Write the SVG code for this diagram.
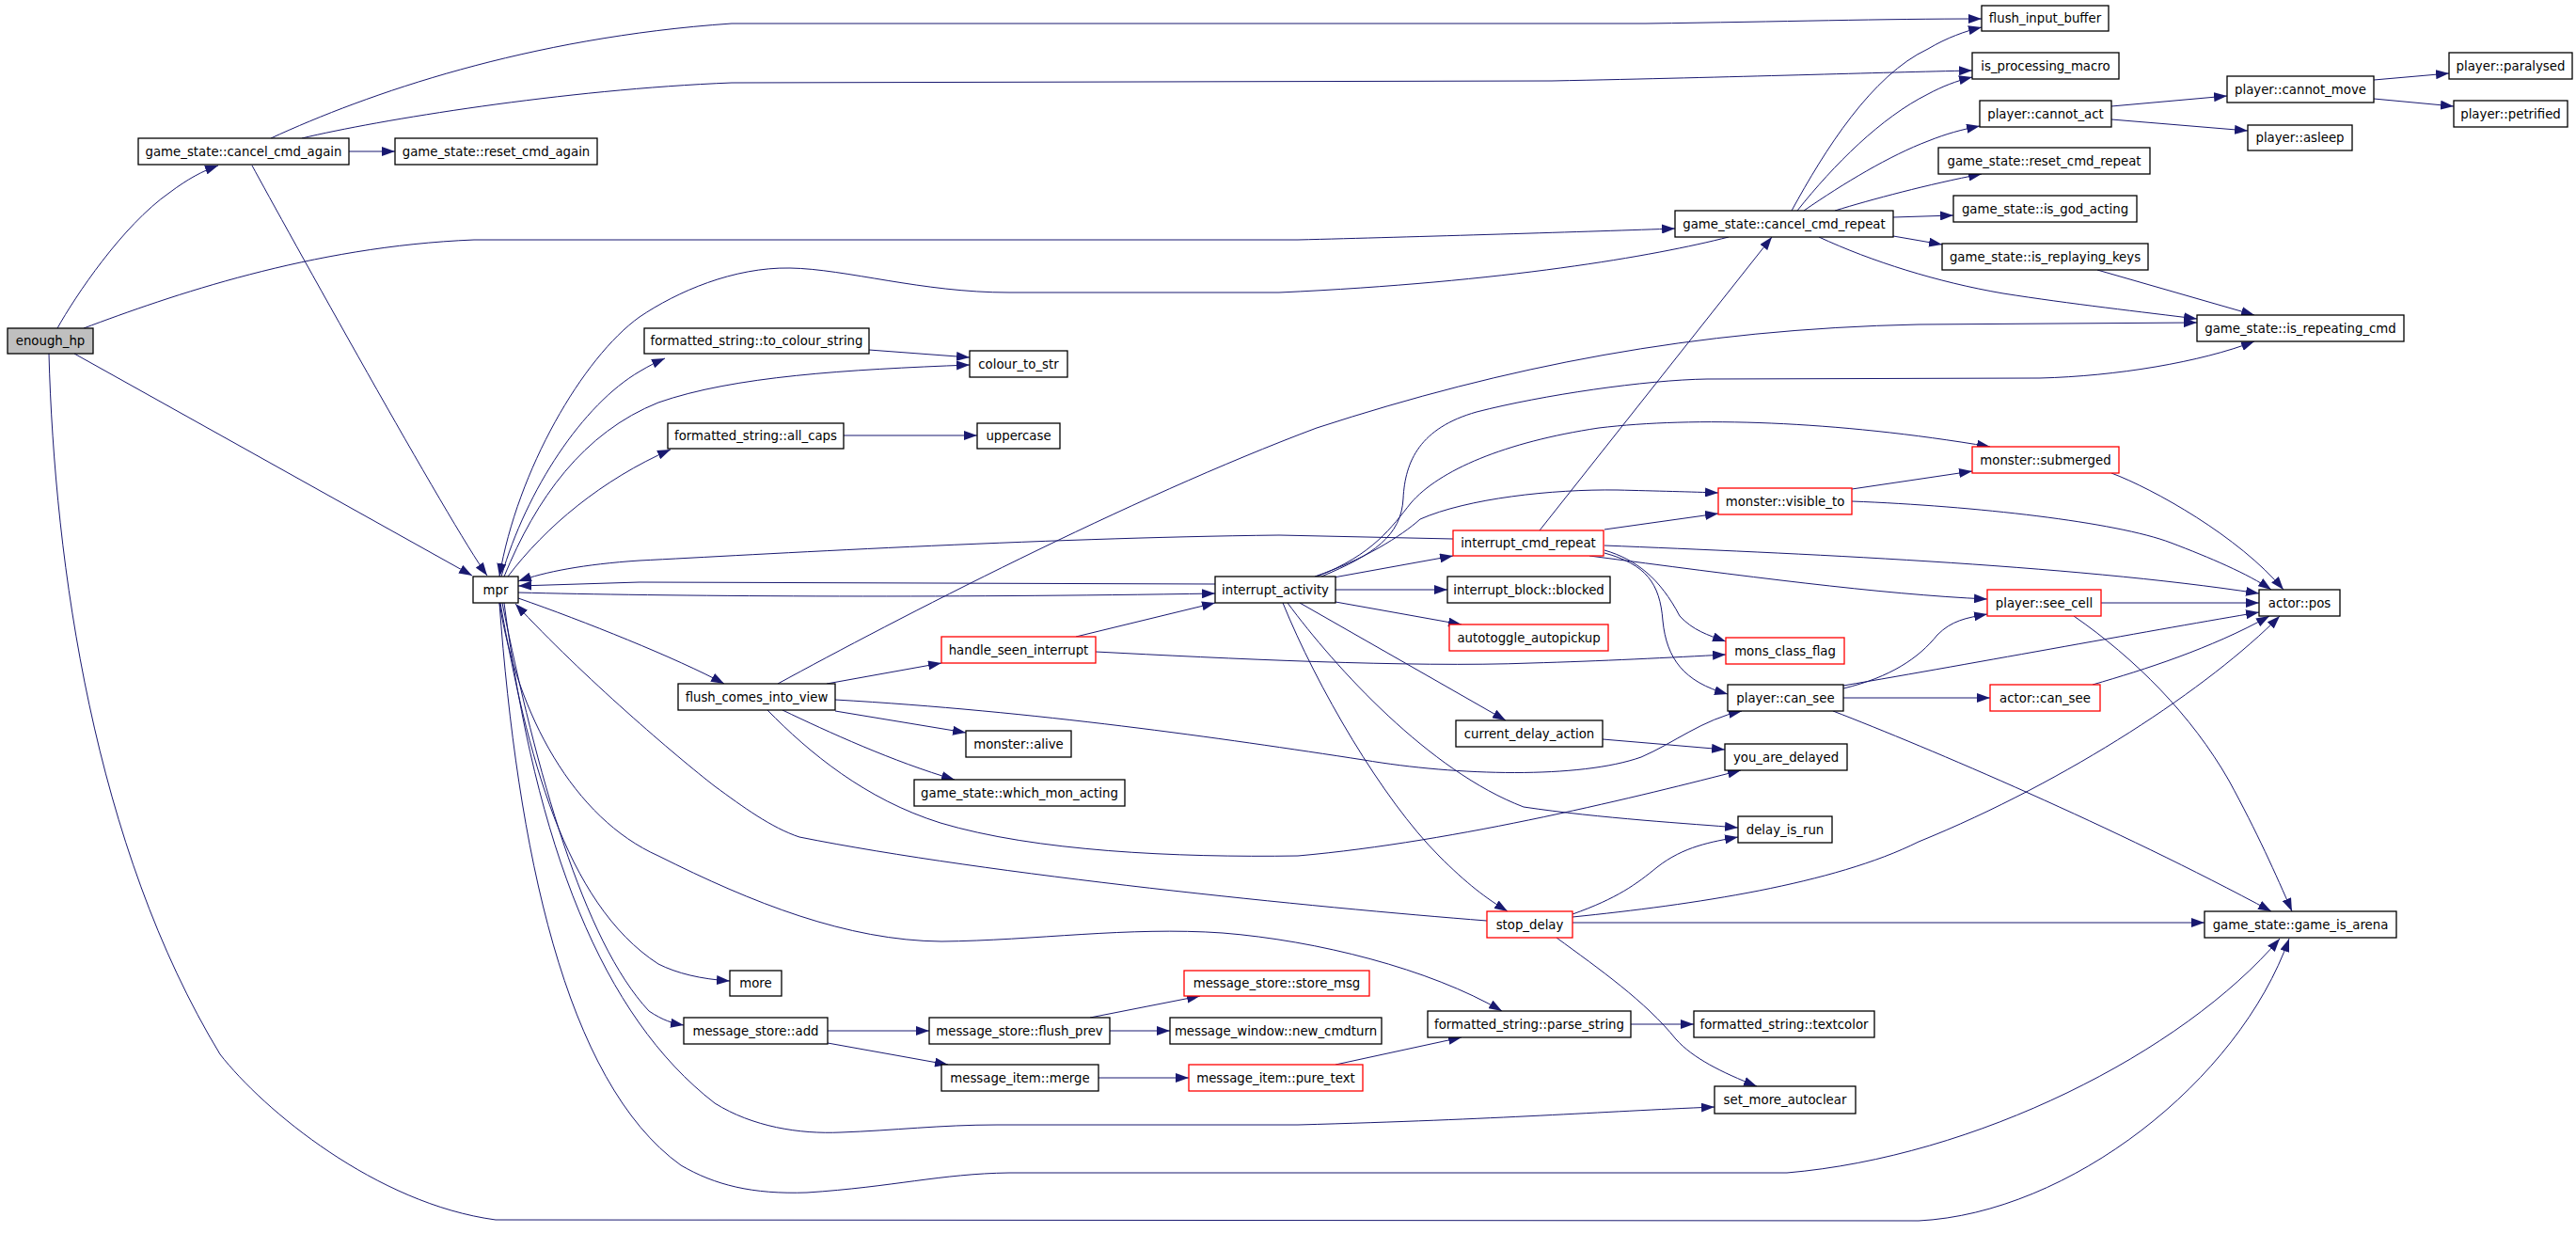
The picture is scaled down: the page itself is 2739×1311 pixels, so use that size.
<svg xmlns="http://www.w3.org/2000/svg" width="2739" height="1311" viewBox="0 0 2739 1311">
<defs>
<marker id="a" markerUnits="userSpaceOnUse" markerWidth="14" markerHeight="10" refX="14" refY="5" orient="auto"><path d="M0,0L14,5L0,10z" fill="#191970"/></marker>
<style>
.n rect{fill:#fff;stroke:#000;stroke-width:1.3}
.r rect{stroke:#f00}
.g rect{fill:#bfbfbf}
text{font-family:"DejaVu Sans","Liberation Sans",sans-serif;font-size:13.3px;text-anchor:middle;fill:#000}
#edges path{fill:none;stroke:#191970;stroke-width:1;marker-end:url(#a)}
</style>
</defs>
<rect width="2739" height="1311" fill="#fff"/>
<g id="edges">
<path d="M61,349 C80,315 130,240 180,205 C200,190 215,182 232,176"/>
<path d="M89,349 C180,315 330,262 504,255 L1380,255 C1500,252 1700,246 1781,243"/>
<path d="M79,376 L502,612"/>
<path d="M52,376 C58,600 100,900 234,1121 C280,1180 400,1280 527,1297 L2040,1298 C2200,1290 2380,1150 2434,998"/>
<path d="M371,161 L420,161"/>
<path d="M288,147 C390,100 560,40 778,25 L1750,25 C1900,23 2000,20 2107,20"/>
<path d="M321,147 C400,128 600,95 778,88 L1650,86 C1850,82 2000,77 2097,75"/>
<path d="M268,176 C300,235 480,560 518,612"/>
<path d="M1905,224 C1940,160 1990,80 2050,52 C2070,40 2090,33 2107,29"/>
<path d="M1911,224 C1950,175 2000,125 2050,100 C2065,92 2080,86 2097,82"/>
<path d="M1918,224 C1960,195 2010,165 2050,150 C2070,142 2085,138 2105,134"/>
<path d="M1951,224 C1990,212 2050,196 2107,185"/>
<path d="M2013,231 L2077,229"/>
<path d="M2013,251 L2065,260"/>
<path d="M1934,252 C1990,278 2060,300 2130,312 C2200,323 2280,332 2336,339"/>
<path d="M2230,287 L2397,335"/>
<path d="M2245,113 L2368,102"/>
<path d="M2245,127 L2390,139"/>
<path d="M2524,85 L2604,78"/>
<path d="M2524,105 L2609,113"/>
<path d="M1838,252 C1760,272 1600,300 1360,311 L1073,311 C980,311 900,286 840,285 C780,284 720,310 680,337 C620,380 550,500 531,613"/>
<path d="M533,613 C560,520 620,430 680,395 C690,389 698,385 707,381"/>
<path d="M536,613 C570,530 620,460 700,428 C780,400 900,393 1031,388"/>
<path d="M540,613 C580,560 640,510 713,478"/>
<path d="M924,372 L1031,380"/>
<path d="M897,463 L1039,463"/>
<path d="M1545,573 L1360,569 C1100,572 800,590 680,596 C620,600 580,608 551,618"/>
<path d="M1292,621 L680,619 L551,623"/>
<path d="M551,630 C700,634 1000,636 1292,631"/>
<path d="M551,636 C620,660 720,700 770,727"/>
<path d="M1581,979 C1400,965 1050,930 850,890 C820,880 790,858 760,836 C720,805 620,720 548,642"/>
<path d="M531,641 C550,760 610,870 700,910 C800,960 900,1000 1001,1001 C1100,1000 1200,985 1300,992 C1400,1000 1520,1030 1597,1075"/>
<path d="M532,641 C560,800 600,960 700,1025 C720,1035 745,1041 776,1043"/>
<path d="M534,641 C570,820 620,1000 690,1075 C705,1085 715,1088 727,1090"/>
<path d="M536,641 C570,900 640,1080 760,1173 C800,1198 850,1206 894,1204 C950,1202 1000,1196 1060,1196 L1380,1196 C1600,1190 1700,1182 1823,1177"/>
<path d="M531,641 C550,900 600,1150 724,1239 C760,1260 800,1270 858,1268 C950,1262 1000,1248 1073,1247 L1900,1247 C2100,1230 2320,1120 2424,998"/>
<path d="M827,727 C950,660 1200,530 1400,455 C1600,390 1800,350 2040,345 L2336,343"/>
<path d="M1405,613 C1460,590 1490,570 1492,530 C1494,490 1510,455 1570,438 C1640,420 1750,404 1815,403 L2169,402 C2250,400 2340,385 2397,363"/>
<path d="M1400,613 C1460,590 1480,560 1500,535 C1530,500 1600,470 1700,455 C1800,443 1950,447 2116,475"/>
<path d="M1398,613 C1450,595 1490,570 1510,552 C1560,530 1650,520 1720,521 C1760,522 1800,523 1827,524"/>
<path d="M1418,614 L1545,591"/>
<path d="M1706,563 L1827,546"/>
<path d="M1637,564 L1884,252"/>
<path d="M1706,580 C1900,588 2200,600 2402,631"/>
<path d="M1690,591 C1850,612 2000,632 2113,637"/>
<path d="M1706,585 C1740,595 1765,615 1786,655 C1800,670 1815,675 1835,682"/>
<path d="M1706,588 C1750,600 1765,620 1768,660 C1772,700 1790,725 1837,738"/>
<path d="M1144,677 L1292,641"/>
<path d="M1165,693 C1300,700 1500,710 1628,705 C1700,703 1780,699 1835,696"/>
<path d="M879,727 L1001,705"/>
<path d="M888,756 L1027,779"/>
<path d="M832,755 C880,778 950,810 1015,829"/>
<path d="M888,744 C1100,756 1300,785 1450,808 C1550,825 1680,828 1745,805 C1780,790 1810,765 1852,756"/>
<path d="M816,755 C860,800 920,850 1000,875 C1100,905 1250,912 1380,910 C1550,895 1750,845 1851,819"/>
<path d="M1420,627 L1539,627"/>
<path d="M1420,640 L1554,664"/>
<path d="M1382,641 L1601,766"/>
<path d="M1369,641 C1420,710 1520,820 1620,858 C1700,870 1800,876 1848,880"/>
<path d="M1364,641 C1400,730 1470,850 1530,910 C1560,940 1580,955 1603,969"/>
<path d="M1704,786 L1834,797"/>
<path d="M1672,972 C1720,955 1740,940 1762,922 C1790,900 1820,895 1848,890"/>
<path d="M1672,975 C1800,962 1950,940 2040,895 C2200,830 2350,730 2424,655"/>
<path d="M1672,981 L2344,981"/>
<path d="M1655,997 C1700,1030 1750,1065 1782,1105 C1800,1125 1830,1140 1868,1155"/>
<path d="M1420,1132 L1554,1103"/>
<path d="M1734,1089 L1801,1089"/>
<path d="M880,1096 L988,1096"/>
<path d="M880,1109 L1008,1132"/>
<path d="M1159,1082 L1276,1059"/>
<path d="M1180,1096 L1244,1096"/>
<path d="M1168,1146 L1264,1146"/>
<path d="M2234,641 L2402,641"/>
<path d="M2205,655 C2270,700 2330,760 2370,830 C2400,885 2420,930 2437,969"/>
<path d="M1960,732 C2010,720 2040,700 2060,675 C2075,660 2090,657 2113,653"/>
<path d="M1960,729 C2100,705 2300,668 2402,651"/>
<path d="M1960,742 L2116,742"/>
<path d="M1949,756 C2050,795 2250,880 2415,969"/>
<path d="M2225,728 C2280,712 2350,690 2413,655"/>
<path d="M1969,520 L2097,501"/>
<path d="M1969,533 C2100,538 2250,555 2308,577 C2350,593 2390,610 2415,627"/>
<path d="M2245,503 C2290,520 2380,570 2428,627"/>
</g>
<g id="enough_hp" class="n g"><rect x="8" y="349" width="91" height="27"/><text x="53.5" y="367">enough_hp</text></g>
<g id="cancel_cmd_again" class="n"><rect x="147" y="147" width="224" height="28"/><text x="259" y="165.5">game_state::cancel_cmd_again</text></g>
<g id="reset_cmd_again" class="n"><rect x="420" y="147" width="215" height="28"/><text x="527.5" y="165.5">game_state::reset_cmd_again</text></g>
<g id="mpr" class="n"><rect x="503" y="613" width="48" height="28"/><text x="527" y="631.5">mpr</text></g>
<g id="to_colour_string" class="n"><rect x="685" y="349" width="239" height="27"/><text x="804.5" y="367">formatted_string::to_colour_string</text></g>
<g id="colour_to_str" class="n"><rect x="1031" y="373" width="104" height="28"/><text x="1083" y="391.5">colour_to_str</text></g>
<g id="all_caps" class="n"><rect x="710" y="450" width="187" height="27"/><text x="803.5" y="468">formatted_string::all_caps</text></g>
<g id="uppercase" class="n"><rect x="1039" y="450" width="88" height="27"/><text x="1083" y="468">uppercase</text></g>
<g id="interrupt_activity" class="n"><rect x="1292" y="613" width="128" height="28"/><text x="1356" y="631.5">interrupt_activity</text></g>
<g id="cancel_cmd_repeat" class="n"><rect x="1781" y="224" width="232" height="28"/><text x="1897" y="242.5">game_state::cancel_cmd_repeat</text></g>
<g id="visible_to" class="n r"><rect x="1827" y="519" width="142" height="28"/><text x="1898" y="537.5">monster::visible_to</text></g>
<g id="interrupt_cmd_repeat" class="n r"><rect x="1545" y="564" width="160" height="27"/><text x="1625" y="582">interrupt_cmd_repeat</text></g>
<g id="blocked" class="n"><rect x="1539" y="613" width="173" height="28"/><text x="1625.5" y="631.5">interrupt_block::blocked</text></g>
<g id="flush_input_buffer" class="n"><rect x="2107" y="6" width="135" height="27"/><text x="2174.5" y="24">flush_input_buffer</text></g>
<g id="is_processing_macro" class="n"><rect x="2097" y="56" width="156" height="28"/><text x="2175" y="74.5">is_processing_macro</text></g>
<g id="cannot_act" class="n"><rect x="2105" y="107" width="140" height="28"/><text x="2175" y="125.5">player::cannot_act</text></g>
<g id="reset_cmd_repeat" class="n"><rect x="2061" y="157" width="225" height="28"/><text x="2173.5" y="175.5">game_state::reset_cmd_repeat</text></g>
<g id="is_god_acting" class="n"><rect x="2077" y="208" width="195" height="28"/><text x="2174.5" y="226.5">game_state::is_god_acting</text></g>
<g id="is_replaying_keys" class="n"><rect x="2065" y="259" width="219" height="28"/><text x="2174.5" y="277.5">game_state::is_replaying_keys</text></g>
<g id="is_repeating_cmd" class="n"><rect x="2336" y="335" width="220" height="28"/><text x="2446" y="353.5">game_state::is_repeating_cmd</text></g>
<g id="cannot_move" class="n"><rect x="2368" y="81" width="156" height="28"/><text x="2446" y="99.5">player::cannot_move</text></g>
<g id="asleep" class="n"><rect x="2390" y="133" width="111" height="27"/><text x="2445.5" y="151">player::asleep</text></g>
<g id="paralysed" class="n"><rect x="2604" y="56" width="131" height="28"/><text x="2669.5" y="74.5">player::paralysed</text></g>
<g id="petrified" class="n"><rect x="2609" y="107" width="121" height="28"/><text x="2669.5" y="125.5">player::petrified</text></g>
<g id="submerged" class="n r"><rect x="2097" y="475" width="156" height="28"/><text x="2175" y="493.5">monster::submerged</text></g>
<g id="see_cell" class="n r"><rect x="2113" y="627" width="121" height="28"/><text x="2173.5" y="645.5">player::see_cell</text></g>
<g id="actor_pos" class="n"><rect x="2402" y="627" width="86" height="28"/><text x="2445" y="645.5">actor::pos</text></g>
<g id="actor_can_see" class="n r"><rect x="2116" y="728" width="117" height="28"/><text x="2174.5" y="746.5">actor::can_see</text></g>
<g id="game_is_arena" class="n"><rect x="2344" y="969" width="204" height="28"/><text x="2446" y="987.5">game_state::game_is_arena</text></g>
<g id="handle_seen_interrupt" class="n r"><rect x="1001" y="677" width="164" height="28"/><text x="1083" y="695.5">handle_seen_interrupt</text></g>
<g id="flush_comes_into_view" class="n"><rect x="721" y="727" width="167" height="28"/><text x="804.5" y="745.5">flush_comes_into_view</text></g>
<g id="monster_alive" class="n"><rect x="1027" y="777" width="112" height="28"/><text x="1083" y="795.5">monster::alive</text></g>
<g id="which_mon_acting" class="n"><rect x="972" y="829" width="224" height="28"/><text x="1084" y="847.5">game_state::which_mon_acting</text></g>
<g id="more" class="n"><rect x="776" y="1032" width="55" height="27"/><text x="803.5" y="1050">more</text></g>
<g id="message_store_add" class="n"><rect x="727" y="1082" width="153" height="28"/><text x="803.5" y="1100.5">message_store::add</text></g>
<g id="flush_prev" class="n"><rect x="988" y="1082" width="192" height="28"/><text x="1084" y="1100.5">message_store::flush_prev</text></g>
<g id="merge" class="n"><rect x="1001" y="1132" width="167" height="28"/><text x="1084.5" y="1150.5">message_item::merge</text></g>
<g id="store_msg" class="n r"><rect x="1259" y="1032" width="197" height="27"/><text x="1357.5" y="1050">message_store::store_msg</text></g>
<g id="new_cmdturn" class="n"><rect x="1244" y="1082" width="225" height="28"/><text x="1356.5" y="1100.5">message_window::new_cmdturn</text></g>
<g id="pure_text" class="n r"><rect x="1264" y="1132" width="185" height="28"/><text x="1356.5" y="1150.5">message_item::pure_text</text></g>
<g id="autotoggle_autopickup" class="n r"><rect x="1541" y="664" width="169" height="28"/><text x="1625.5" y="682.5">autotoggle_autopickup</text></g>
<g id="mons_class_flag" class="n r"><rect x="1835" y="678" width="126" height="28"/><text x="1898" y="696.5">mons_class_flag</text></g>
<g id="player_can_see" class="n"><rect x="1837" y="728" width="123" height="28"/><text x="1898.5" y="746.5">player::can_see</text></g>
<g id="current_delay_action" class="n"><rect x="1548" y="766" width="156" height="28"/><text x="1626" y="784.5">current_delay_action</text></g>
<g id="you_are_delayed" class="n"><rect x="1834" y="791" width="130" height="28"/><text x="1899" y="809.5">you_are_delayed</text></g>
<g id="delay_is_run" class="n"><rect x="1848" y="868" width="100" height="28"/><text x="1898" y="886.5">delay_is_run</text></g>
<g id="stop_delay" class="n r"><rect x="1581" y="969" width="91" height="28"/><text x="1626.5" y="987.5">stop_delay</text></g>
<g id="parse_string" class="n"><rect x="1518" y="1075" width="216" height="28"/><text x="1626" y="1093.5">formatted_string::parse_string</text></g>
<g id="textcolor" class="n"><rect x="1801" y="1075" width="192" height="28"/><text x="1897" y="1093.5">formatted_string::textcolor</text></g>
<g id="set_more_autoclear" class="n"><rect x="1823" y="1155" width="150" height="29"/><text x="1898" y="1174">set_more_autoclear</text></g>
</svg>
